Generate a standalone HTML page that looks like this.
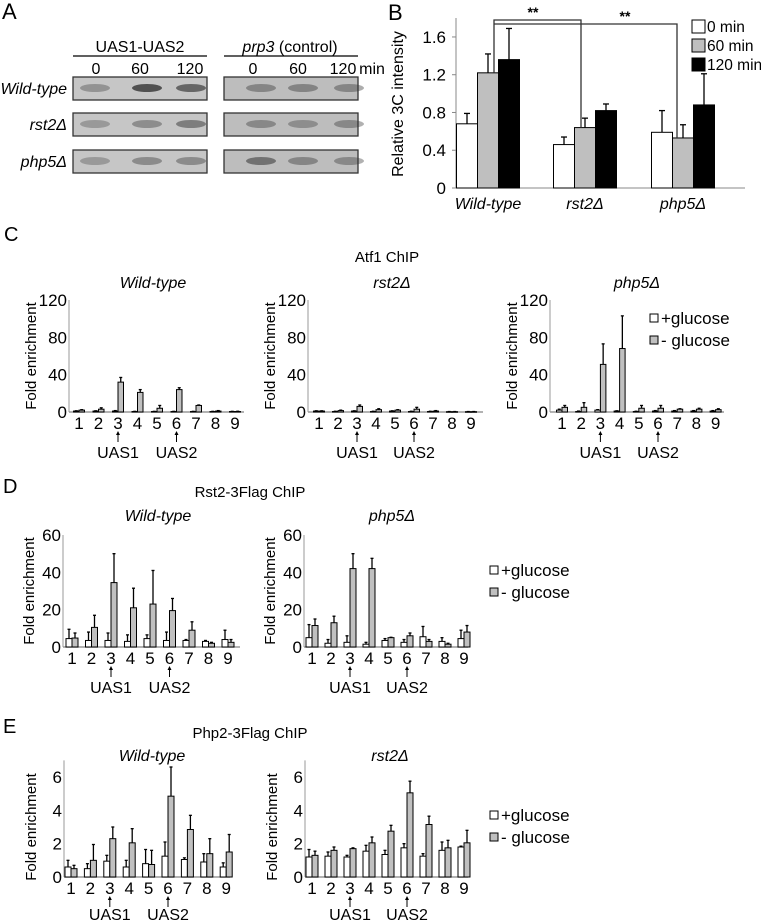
<!DOCTYPE html>
<html><head><meta charset="utf-8"><style>
body{margin:0;background:#fff;}
svg{display:block;font-family:"Liberation Sans",Arial,sans-serif;}
</style></head><body>
<svg id="fig" width="761" height="921" viewBox="0 0 761 921" xmlns="http://www.w3.org/2000/svg">
<!-- Panel A -->
<g>
<text x="2" y="19" font-size="22">A</text>
<text x="140" y="52" font-size="16" text-anchor="middle">UAS1-UAS2</text>
<line x1="73" y1="56" x2="207" y2="56" stroke="#000" stroke-width="1.2"/>
<text x="290" y="52" font-size="16" text-anchor="middle"><tspan font-style="italic">prp3</tspan> (control)</text>
<line x1="224" y1="56" x2="358" y2="56" stroke="#000" stroke-width="1.2"/>
<g font-size="16" text-anchor="middle">
<text x="96" y="74">0</text><text x="140" y="74">60</text><text x="190" y="74">120</text>
<text x="253" y="74">0</text><text x="298" y="74">60</text><text x="343" y="74">120</text>
<text x="372" y="74">min</text></g>
<g font-size="16" font-style="italic" text-anchor="end">
<text x="67" y="94">Wild-type</text><text x="67" y="130">rst2Δ</text><text x="67" y="167">php5Δ</text></g>
<g id="gels"></g>
</g>
<!-- Panel B -->
<g id="panelB">
<text x="388" y="20" font-size="22">B</text>
</g>
<!-- Panel C -->
<g>
<text x="4" y="241" font-size="20">C</text>
<text x="387" y="262" font-size="15" text-anchor="middle">Atf1 ChIP</text>
<g font-size="16" font-style="italic" text-anchor="middle">
<text x="153" y="288">Wild-type</text><text x="392" y="288">rst2Δ</text><text x="637" y="288">php5Δ</text></g>
</g>
<!-- Panel D -->
<g>
<text x="3" y="493" font-size="20">D</text>
<text x="250" y="497" font-size="15" text-anchor="middle">Rst2-3Flag ChIP</text>
<g font-size="16" font-style="italic" text-anchor="middle">
<text x="158" y="521">Wild-type</text><text x="392" y="521">php5Δ</text></g>
</g>
<!-- Panel E -->
<g>
<text x="3" y="733" font-size="20">E</text>
<text x="250" y="738" font-size="15" text-anchor="middle">Php2-3Flag ChIP</text>
<g font-size="16" font-style="italic" text-anchor="middle">
<text x="152" y="761">Wild-type</text><text x="390" y="761">rst2Δ</text></g>
</g>
<g id="charts"></g>
</svg>
<script>
// ---- Panel B data ----
const bCats = ['Wild-type', 'rst2Δ', 'php5Δ'];
const bVal0 = [0.68, 0.46, 0.59];
const bErr0 = [0.11, 0.08, 0.23];
const bVal60 = [1.22, 0.64, 0.53];
const bErr60 = [0.20, 0.10, 0.14];
const bVal120 = [1.36, 0.82, 0.88];
const bErr120 = [0.33, 0.07, 0.33];
const bTicks = [0, 0.4, 0.8, 1.2, 1.6];
const bTickLabels = ['0', '0.4', '0.8', '1.2', '1.6'];
const bLegend = ['0 min', '60 min', '120 min'];

// ---- ChIP data ----
const chipCats = ['1','2','3','4','5','6','7','8','9'];
const c1Plus = [1,1,1,0.5,0.5,0.5,0.5,0.5,0.5];
const c1PlusErr = [0.3,0.3,0.5,0.2,0.2,0.2,0.2,0.2,0.2];
const c1Minus = [2,3,32,21,4,24,7,1,0.5];
const c1MinusErr = [0.5,1.5,5,3,3,2,0.5,0.5,0.3];
const c2Plus = [1,0.5,1,0.5,1,0.5,0.5,0.3,0.3];
const c2PlusErr = [0.3,0.3,0.3,0.3,0.3,0.3,0.3,0.2,0.2];
const c2Minus = [1,1.5,6,2.5,2,3,1,0.3,0.3];
const c2MinusErr = [0.3,0.5,1.5,1,0.5,2,0.5,0.2,0.2];
const c3Plus = [2,0.5,2,1,0.5,1,1,1,1];
const c3PlusErr = [1,0.5,0.5,0.3,0.3,0.5,0.5,0.5,0.5];
const c3Minus = [5,5,51,68,4,4,3,3,2.5];
const c3MinusErr = [2,5,22,35,3,3,0.5,1,1];
const d1Plus = [4.5,3.5,3.5,3,4.5,3.5,3.5,3,4];
const d1PlusErr = [5,4.5,4,3.5,2,4.5,0.5,0.5,5];
const d1Minus = [4.8,10.5,34.5,21,23,19.5,9,2,2.5];
const d1MinusErr = [2.7,6.5,15.5,10.5,18,6.5,4.5,0.5,1.5];
const d2Plus = [5,2,2.5,1.5,3.5,2.5,5.5,3,4.5];
const d2PlusErr = [7,2,3.5,1,1,1.5,5.5,2,4.5];
const d2Minus = [11.5,13,42,42,5,6,3,1.5,8];
const d2MinusErr = [3.5,3.5,8,5.5,0.2,1.5,1,0.5,3.5];
const e1Plus = [0.6,0.5,0.95,0.6,0.8,1.25,1.05,0.9,0.6];
const e1PlusErr = [0.4,0.3,0.35,0.4,0.85,0.85,0.1,0.5,0.25];
const e1Minus = [0.5,1,2.3,2.05,0.75,4.85,2.85,1.4,1.5];
const e1MinusErr = [0.2,0.95,0.7,0.85,0.85,1.75,0.85,0.9,1.05];
const e2Plus = [1.2,1.25,1.2,1.55,1.35,1.75,1.25,1.6,1.8];
const e2PlusErr = [0.45,0.25,0.1,0.35,0.25,0.25,0.15,0.5,0.05];
const e2Minus = [1.3,1.6,1.7,2.05,2.75,5.05,3.15,1.75,2.05];
const e2MinusErr = [0.25,0.2,0.05,0.35,0.35,0.7,0.5,0.45,0.75];
const cTicks = [0,40,80,120];
const dTicks = [0,20,40,60];
const eTicks = [0,2,4,6];
const legendLabels = ['+glucose', '- glucose'];

const NS = 'http://www.w3.org/2000/svg';
function mk(tag, attrs, parent) {
  const e = document.createElementNS(NS, tag);
  for (const k in attrs) e.setAttribute(k, attrs[k]);
  parent.appendChild(e);
  return e;
}

// ---- Gels ----
const gels = document.getElementById('gels');
const gelRows = [77, 113, 150];
const gelBoxes = [73, 224];
const laneX = [[95,147,191],[261,303,349]];
const bandDark = [[0.35,0.8,0.65],[0.4,0.42,0.4],[0.3,0.38,0.5],[0.38,0.35,0.38],[0.3,0.4,0.4],[0.55,0.4,0.38]];
gelRows.forEach((ry, r) => {
  gelBoxes.forEach((bx, b) => {
    const box = mk('rect', {x: bx, y: ry, width: 134, height: 23, fill: b ? '#bdbdbd' : '#c6c6c6', stroke: '#333', 'stroke-width': 1.3}, gels);
    
    
    laneX[b].forEach((lx, l) => {
      const d = bandDark[r*2+b][l];
      const band = mk('ellipse', {cx: lx, cy: ry + 11, rx: 15, ry: 4, fill: '#333', opacity: d}, gels);
      
      
    });
  });
});

// ---- Panel B chart ----
const pb = document.getElementById('panelB');
const bAxisX = 456, bY0 = 188, bScale = 94.4;
const bGroupX = [488, 585, 683];
function bY(v) { return bY0 - v * bScale; }
const bAxis = mk('line', {x1: bAxisX, y1: 18, x2: bAxisX, y2: bY0, stroke: '#888', 'stroke-width': 1}, pb);


const bXAxis = mk('line', {x1: bAxisX, y1: bY0, x2: 745, y2: bY0, stroke: '#888', 'stroke-width': 1}, pb);


bTicks.forEach((t, i) => {
  const tl = mk('text', {x: bAxisX - 10, y: bY(t) + 6, 'font-size': 17, 'text-anchor': 'end'}, pb);
  tl.textContent = bTickLabels[i];
  
  
  const tk = mk('line', {x1: bAxisX - 4, y1: bY(t), x2: bAxisX, y2: bY(t), stroke: '#888'}, pb);
  
  
});
const bYl = mk('text', {x: 0, y: 0, 'font-size': 16, 'text-anchor': 'middle', transform: 'translate(403,104) rotate(-90)'}, pb);
bYl.textContent = 'Relative 3C intensity';


const bSeries = [[bVal0, bErr0, '#fff'], [bVal60, bErr60, '#bfbfbf'], [bVal120, bErr120, '#000']];
bCats.forEach((c, g) => {
  bSeries.forEach((s, k) => {
    const v = s[0][g], e = s[1][g];
    const cx = bGroupX[g] + (k - 1) * 21;
    const el = mk('line', {x1: cx, y1: bY(v), x2: cx, y2: bY(v + e), stroke: '#000', 'stroke-width': 1.3}, pb);
    
    
    const cap = mk('line', {x1: cx - 3, y1: bY(v + e), x2: cx + 3, y2: bY(v + e), stroke: '#000', 'stroke-width': 1.3}, pb);
    
    
    const r = mk('rect', {x: cx - 10.5, y: bY(v), width: 21, height: bY0 - bY(v), fill: s[2], stroke: '#000', 'stroke-width': 1}, pb);
    
    
  });
  const xl = mk('text', {x: bGroupX[g], y: 209, 'font-size': 16, 'font-style': 'italic', 'text-anchor': 'middle'}, pb);
  xl.textContent = c;
  
  
});
// significance brackets
const br1 = mk('polyline', {points: `494,${bY(bVal60[0])} 494,20 581,20 581,${bY(bVal60[1])}`, fill: 'none', stroke: '#333', 'stroke-width': 1.3}, pb);


const br2 = mk('polyline', {points: `494,24 677,24 677,${bY(bVal60[2])}`, fill: 'none', stroke: '#333', 'stroke-width': 1.3}, pb);


const s1 = mk('text', {x: 533, y: 17, 'font-size': 14, 'text-anchor': 'middle', 'font-weight': 'bold'}, pb);
s1.textContent = '**';


const s2 = mk('text', {x: 625, y: 21, 'font-size': 14, 'text-anchor': 'middle', 'font-weight': 'bold'}, pb);
s2.textContent = '**';


const bLegFill = ['#fff', '#bfbfbf', '#000'];
bLegend.forEach((l, i) => {
  const y = 20 + i * 19;
  const sq = mk('rect', {x: 692, y: y, width: 13, height: 13, fill: bLegFill[i], stroke: '#000'}, pb);
  
  
  const t = mk('text', {x: 707, y: y + 12, 'font-size': 15.5}, pb);
  t.textContent = l;
  
  
});

// ---- ChIP charts ----
const charts = document.getElementById('charts');
function chipChart(cfg, plus, plusErr, minus, minusErr, ticks) {
  const g = mk('g', {}, charts);
  
  
  const sc = (cfg.y0 - cfg.yTopPx) / cfg.maxTick;
  const Y = v => cfg.y0 - v * sc;
  const X = i => cfg.ax + cfg.off + i * cfg.sp;
  const topV = cfg.axisTopV || cfg.maxTick;
  const ya = mk('line', {x1: cfg.ax, y1: Y(topV), x2: cfg.ax, y2: cfg.y0, stroke: '#999', 'stroke-width': 1}, g);
  
  
  const xa = mk('line', {x1: cfg.ax, y1: cfg.y0, x2: cfg.ax + cfg.end, y2: cfg.y0, stroke: '#999', 'stroke-width': 1.5}, g);
  
  
  ticks.forEach(t => {
    const tl = mk('text', {x: cfg.ax - 2, y: Y(t) + 6, 'font-size': 17, 'text-anchor': 'end'}, g);
    tl.textContent = String(t);
    
    
  });
  const yl = mk('text', {x: 0, y: 0, 'font-size': 15, 'text-anchor': 'middle', transform: `translate(${cfg.ax - cfg.ylOff},${(cfg.y0 + Y(cfg.maxTick)) / 2}) rotate(-90)`}, g);
  yl.textContent = 'Fold enrichment';
  
  
  const bw = cfg.bw;
  chipCats.forEach((c, i) => {
    const cx = X(i);
    [[plus[i], plusErr[i], '#fff', -1], [minus[i], minusErr[i], '#c0c0c0', 1]].forEach(s => {
      const bx = s[3] < 0 ? cx - bw : cx;
      const mid = bx + bw / 2;
      const el = mk('line', {x1: mid, y1: Y(s[0]), x2: mid, y2: Y(s[0] + s[1]), stroke: '#000', 'stroke-width': 1.3}, g);
      
      
      const cap = mk('line', {x1: mid - 1.5, y1: Y(s[0] + s[1]), x2: mid + 1.5, y2: Y(s[0] + s[1]), stroke: '#000', 'stroke-width': 1.3}, g);
      
      
      const r = mk('rect', {x: bx, y: Y(s[0]), width: bw, height: Math.max(cfg.y0 - Y(s[0]), 0.5), fill: s[2], stroke: '#000', 'stroke-width': 1}, g);
      
      
    });
    const cl = mk('text', {x: cx, y: cfg.y0 + 17, 'font-size': 17, 'text-anchor': 'middle'}, g);
    cl.textContent = c;
    
    
  });
  [[2, 'UAS1'], [5, 'UAS2']].forEach(u => {
    const cx = X(u[0]);
    const ar = mk('line', {x1: cx, y1: cfg.y0 + 30, x2: cx, y2: cfg.y0 + 21, stroke: '#000', 'stroke-width': 1}, g);
    
    
    const ah = mk('polygon', {points: `${cx - 2},${cfg.y0 + 23} ${cx + 2},${cfg.y0 + 23} ${cx},${cfg.y0 + 19}`, fill: '#000'}, g);
    
    
    const ut = mk('text', {x: cx, y: cfg.y0 + cfg.uasY, 'font-size': 16, 'text-anchor': 'middle'}, g);
    ut.textContent = u[1];
    
    
  });
  if (cfg.legend) {
    legendLabels.forEach((l, i) => {
      const ly = cfg.legend[1] + i * 22;
      const sq = mk('rect', {x: cfg.legend[0], y: ly - 4, width: 8, height: 8, fill: i ? '#c0c0c0' : '#fff', stroke: '#000'}, g);
      
      
      const t = mk('text', {x: cfg.legend[0] + 11, y: ly + 6, 'font-size': 17}, g);
      t.textContent = l;
      
      
    });
  }
}
chipChart({name: 'chart-c-wild-type', ax: 69, y0: 412, yTopPx: 300, maxTick: 120, off: 10, sp: 19.5, end: 175, bw: 5.5, ylOff: 33, uasY: 46}, c1Plus, c1PlusErr, c1Minus, c1MinusErr, cTicks);
chipChart({name: 'chart-c-rst2', ax: 308, y0: 412, yTopPx: 300, maxTick: 120, off: 11, sp: 19, end: 175, bw: 5.5, ylOff: 33, uasY: 46}, c2Plus, c2PlusErr, c2Minus, c2MinusErr, cTicks);
chipChart({name: 'chart-c-php5', ax: 550, y0: 412, yTopPx: 300, maxTick: 120, off: 12, sp: 19.2, end: 174, bw: 5.5, ylOff: 33, uasY: 46, legend: [650, 318]}, c3Plus, c3PlusErr, c3Minus, c3MinusErr, cTicks);
chipChart({name: 'chart-d-wild-type', ax: 63, y0: 647, yTopPx: 535, maxTick: 60, off: 9, sp: 19.5, end: 177, bw: 6, ylOff: 29, uasY: 46}, d1Plus, d1PlusErr, d1Minus, d1MinusErr, dTicks);
chipChart({name: 'chart-d-php5', ax: 304, y0: 647, yTopPx: 535, maxTick: 60, off: 8, sp: 19, end: 164, bw: 6, ylOff: 29, uasY: 46, legend: [490, 570]}, d2Plus, d2PlusErr, d2Minus, d2MinusErr, dTicks);
chipChart({name: 'chart-e-wild-type', ax: 64, y0: 877, yTopPx: 777, maxTick: 6, axisTopV: 7, off: 7, sp: 19.4, end: 166, bw: 6, ylOff: 28, uasY: 43}, e1Plus, e1PlusErr, e1Minus, e1MinusErr, eTicks);
chipChart({name: 'chart-e-rst2', ax: 305, y0: 877, yTopPx: 777, maxTick: 6, axisTopV: 7, off: 7, sp: 19, end: 163, bw: 6, ylOff: 28, uasY: 43, legend: [490, 815]}, e2Plus, e2PlusErr, e2Minus, e2MinusErr, eTicks);
</script>
</body></html>
